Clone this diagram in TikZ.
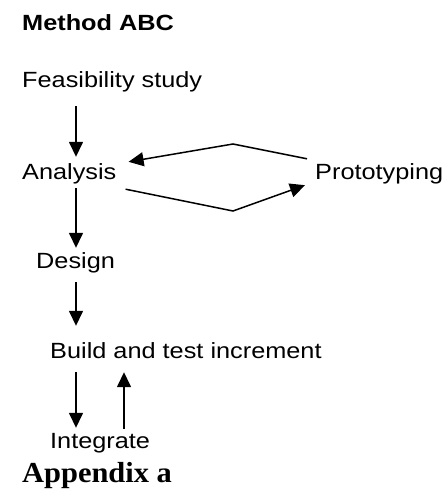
\documentclass[tikz,border=0pt]{standalone}
\usepackage{fontspec}
\newfontfamily\arialfont[FakeStretch=1.15]{Liberation Sans}
\newfontfamily\timesfont[FakeStretch=1.05]{Liberation Serif}
\usepackage{tikz}
\usetikzlibrary{arrows.meta}
\tikzset{
	lbl/.style={anchor=base west, inner sep=0pt, text height=16pt, text depth=5pt, font=\arialfont\fontsize{22}{26}\selectfont},
	arr/.style={line width=1.5pt, -{Triangle[length=15pt, width=14pt]}}
}

\begin{document}
\begin{tikzpicture}[x=1pt, y=-1pt]
				\useasboundingbox (0, 0) rectangle (445, 492);
				% Labels:
				\node[lbl, font=\arialfont\bfseries\fontsize{22}{26}\selectfont](title) at (22, 30.5){Method ABC};
				\node[lbl](feas) at (22, 88){Feasibility study};
				\node[lbl](ana) at (22, 179){Analysis};
				\node[lbl](proto) at (315, 179){Prototyping};
				\node[lbl](design) at (36, 268){Design};
				\node[lbl](build) at (50, 358){Build and test increment};
				\node[lbl](integ) at (50, 448){Integrate};
				\node[anchor=base west, inner sep=0pt, font=\timesfont\bfseries\fontsize{29}{34}\selectfont](appx) at (22, 482){Appendix a};
				% Columns and bends:
				\coordinate (stem) at (76, 0);
				\coordinate (back) at (124, 0);
				\coordinate (topbend) at (233, 144);
				\coordinate (lowbend) at (233, 211);
				% Arrows:
				\draw[arr, shorten <=13pt, shorten >=6pt] (feas.south -| stem) -- (ana.north -| stem);
				\draw[arr, shorten <=4pt, shorten >=4pt] (ana.south -| stem) -- (design.north -| stem);
				\draw[arr, shorten <=9pt, shorten >=16pt] (design.south -| stem) -- (build.north -| stem);
				\draw[arr, shorten <=9pt, shorten >=4pt] (build.south -| stem) -- (integ.north -| stem);
				\draw[arr, shorten <=3pt, shorten >=9pt] (integ.north -| back) -- (build.south -| back);
				\draw[arr] ([shift={(9, 5)}]ana.south east) -- (lowbend) -- ([shift={(-10, 1)}]proto.south west);
				\draw[arr] ([shift={(-8, -4)}]proto.north west) -- (topbend) -- ([shift={(12, -1)}]ana.north east);
			\end{tikzpicture}
\end{document}
